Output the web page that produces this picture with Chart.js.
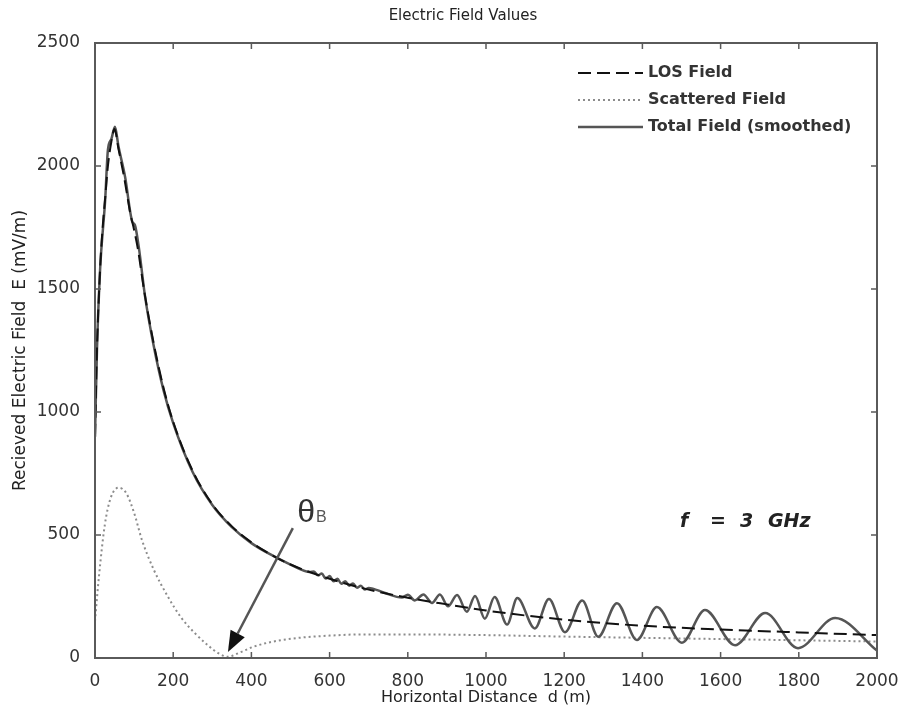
<!DOCTYPE html>
<html lang="en">
<head>
<meta charset="UTF-8">
<title>Electric Field Values</title>
<style>
  html, body { margin: 0; padding: 0; background: #fff; }
  #wrap { width: 901px; height: 711px; }
</style>
</head>
<body>
<div id="wrap"><canvas id="field-chart" width="901" height="711"></canvas></div>
<script src="https://cdn.jsdelivr.net/npm/chart.js@4.4.1/dist/chart.umd.min.js"></script>
<script>
// horizontal distance (m) and field strength (mV/m) for each curve
var losDistance = [0, 5, 13, 20, 26, 33, 42, 50, 60, 75, 90, 100, 110, 125, 150, 175, 200, 250, 300, 350, 400, 450, 500, 600, 700, 800, 900, 1000, 1200, 1400, 1600, 1800, 2000];
var losField    = [900, 1250, 1580, 1760, 1870, 2000, 2100, 2150, 2070, 1950, 1810, 1740, 1660, 1500, 1280, 1100, 960, 760, 625, 535, 470, 420, 380, 322, 278, 245, 218, 193, 156, 131, 116, 104, 93];

var scatDistance = [0, 10, 25, 40, 60, 80, 100, 120, 150, 187, 220, 256, 290, 315, 340, 370, 404, 450, 516, 600, 686, 800, 1000, 1200, 1400, 1600, 1800, 2000];
var scatField    = [150, 330, 540, 650, 692, 670, 590, 480, 360, 248, 165, 100, 50, 20, 5, 22, 45, 65, 81, 91, 96, 96, 93, 87, 82, 77, 72, 67];

var totalDistance = [0, 5, 13, 26, 33, 42, 51, 60, 77, 95, 102, 112, 128, 150, 175, 200, 250, 300, 350, 400, 450, 500, 550,
  560, 570, 580, 590, 600, 610, 620, 630, 640, 650, 660, 670, 680, 690, 700, 740, 785,
  800, 818, 840, 862, 882, 903, 926, 951, 972, 997, 1022, 1054, 1080, 1125, 1161, 1202, 1246, 1287,
  1335, 1386, 1437, 1501, 1560, 1637, 1714, 1798, 1893, 2000];
var totalField = [900, 1250, 1577, 1862, 2065, 2110, 2160, 2080, 1955, 1775, 1760, 1670, 1470, 1270, 1090, 955, 755, 622, 532, 467, 420, 380, 350,
  352, 336, 343, 323, 333, 312, 322, 302, 312, 294, 303, 286, 294, 278, 285, 265, 246,
  257, 234, 258, 224, 258, 210, 256, 188, 252, 160, 248, 136, 244, 120, 240, 105, 234, 86,
  223, 73, 207, 62, 195, 52, 183, 40, 163, 30];

var xTicks = { min: 0, max: 2000, step: 200 };
var yTicks = { min: 0, max: 2500, step: 500 };

// annotation anchors in data units
var arrowTail = [506, 528];
var arrowTip = [340, 24];
var thetaAt = [517, 553];
var freqAt = [1496, 532];

function toPoints(xs, ys) {
  return xs.map(function (v, i) { return { x: v, y: ys[i] }; });
}

// box, inward ticks, legend, arrow and text labels
var extras = {
  id: 'extras',
  afterDatasetsDraw: function (chart) {
    var ctx = chart.ctx, a = chart.chartArea;
    var xs = chart.scales.x, ys = chart.scales.y;
    ctx.save();

    ctx.strokeStyle = '#5a5a5a';
    ctx.lineWidth = 2;
    ctx.setLineDash([]);
    ctx.strokeRect(a.left, a.top, a.right - a.left, a.bottom - a.top);

    ctx.lineWidth = 1.5;
    ctx.beginPath();
    xs.ticks.forEach(function (t) {
      var px = xs.getPixelForValue(t.value);
      ctx.moveTo(px, a.bottom); ctx.lineTo(px, a.bottom - 6);
      ctx.moveTo(px, a.top); ctx.lineTo(px, a.top + 6);
    });
    ys.ticks.forEach(function (t) {
      var py = ys.getPixelForValue(t.value);
      ctx.moveTo(a.left, py); ctx.lineTo(a.left + 6, py);
      ctx.moveTo(a.right, py); ctx.lineTo(a.right - 6, py);
    });
    ctx.stroke();

    // title
    ctx.fillStyle = '#222';
    ctx.font = '15px "DejaVu Sans"';
    ctx.textAlign = 'center';
    ctx.textBaseline = 'middle';
    ctx.fillText('Electric Field Values', (a.left + a.right) / 2 - 23, 16);

    // legend
    ctx.textAlign = 'left';
    ctx.font = 'bold 16px "DejaVu Sans"';
    chart.data.datasets.forEach(function (ds, i) {
      var ry = a.top + 30 + i * 27;
      ctx.strokeStyle = ds.borderColor;
      ctx.lineWidth = ds.borderWidth;
      ctx.setLineDash(ds.borderDash || []);
      ctx.beginPath();
      ctx.moveTo(a.right - 299, ry);
      ctx.lineTo(a.right - 234, ry);
      ctx.stroke();
      ctx.fillStyle = '#333';
      ctx.fillText(ds.label, a.right - 229, ry);
    });
    ctx.setLineDash([]);

    // arrow
    var x0 = xs.getPixelForValue(arrowTail[0]), y0 = ys.getPixelForValue(arrowTail[1]);
    var x1 = xs.getPixelForValue(arrowTip[0]), y1 = ys.getPixelForValue(arrowTip[1]);
    var ang = Math.atan2(y1 - y0, x1 - x0);
    var head = 21, half = 8;
    var bx = x1 - head * Math.cos(ang), by = y1 - head * Math.sin(ang);
    ctx.strokeStyle = '#555';
    ctx.lineWidth = 2.5;
    ctx.beginPath(); ctx.moveTo(x0, y0); ctx.lineTo(bx, by); ctx.stroke();
    ctx.fillStyle = '#111';
    ctx.beginPath();
    ctx.moveTo(x1, y1);
    ctx.lineTo(bx + half * Math.sin(ang), by - half * Math.cos(ang));
    ctx.lineTo(bx - half * Math.sin(ang), by + half * Math.cos(ang));
    ctx.closePath();
    ctx.fill();

    // theta_B label
    var tx = xs.getPixelForValue(thetaAt[0]), ty = ys.getPixelForValue(thetaAt[1]);
    ctx.textBaseline = 'alphabetic';
    ctx.fillStyle = '#333';
    ctx.font = '32px "Liberation Sans"';
    ctx.fillText('\u03b8', tx, ty);
    var tw = ctx.measureText('\u03b8').width;
    ctx.fillStyle = '#555';
    ctx.font = '16px "Liberation Sans"';
    ctx.fillText('B', tx + tw + 1, ty);

    // frequency note
    var fx = xs.getPixelForValue(freqAt[0]), fy = ys.getPixelForValue(freqAt[1]);
    ctx.fillStyle = '#222';
    ctx.font = 'italic bold 19px "DejaVu Sans"';
    ctx.fillText('f', fx, fy);
    ctx.fillText('=', fx + 30, fy);
    ctx.fillText('3', fx + 60, fy);
    ctx.fillText('GHz', fx + 88, fy);

    ctx.restore();
  }
};

var tickFont = { family: 'DejaVu Sans', size: 17 };
var plainLabel = function (v) { return String(v); };

new Chart(document.getElementById('field-chart'), {
  type: 'line',
  data: {
    datasets: [{
      label: 'LOS Field',
      data: toPoints(losDistance, losField),
      borderColor: '#111',
      borderWidth: 2,
      borderDash: [13, 6],
      order: 0
    }, {
      label: 'Scattered Field',
      data: toPoints(scatDistance, scatField),
      borderColor: '#8c8c8c',
      borderWidth: 2,
      borderDash: [2, 3],
      order: 2
    }, {
      label: 'Total Field (smoothed)',
      data: toPoints(totalDistance, totalField),
      borderColor: '#555',
      borderWidth: 2.5,
      order: 1
    }]
  },
  options: {
    responsive: false,
    animation: false,
    devicePixelRatio: 1,
    layout: { padding: { top: 43, right: 24, bottom: 0, left: 0 } },
    elements: {
      point: { radius: 0 },
      line: { cubicInterpolationMode: 'monotone', fill: false }
    },
    plugins: {
      legend: { display: false },
      tooltip: { enabled: false },
      title: { display: false }
    },
    scales: {
      x: {
        type: 'linear',
        min: xTicks.min, max: xTicks.max,
        ticks: { stepSize: xTicks.step, font: tickFont, color: '#333', padding: 5, maxRotation: 0, callback: plainLabel },
        grid: { display: false },
        border: { display: false },
        title: { display: true, text: 'Horizontal Distance  d (m)', font: { family: 'DejaVu Sans', size: 16 }, color: '#222', padding: { top: 0, bottom: 4 } },
        afterFit: function (s) { s.height = 53; s.paddingLeft = 0; s.paddingRight = 0; }
      },
      y: {
        min: yTicks.min, max: yTicks.max,
        ticks: { stepSize: yTicks.step, font: tickFont, color: '#333', padding: 7, callback: plainLabel },
        grid: { display: false },
        border: { display: false },
        title: { display: true, text: 'Recieved Electric Field  E (mV/m)', font: { family: 'DejaVu Sans', size: 17 }, color: '#222', padding: { top: 10, bottom: 0 } },
        afterFit: function (s) { s.width = 95; }
      }
    }
  },
  plugins: [extras]
});
</script>
</body>
</html>
